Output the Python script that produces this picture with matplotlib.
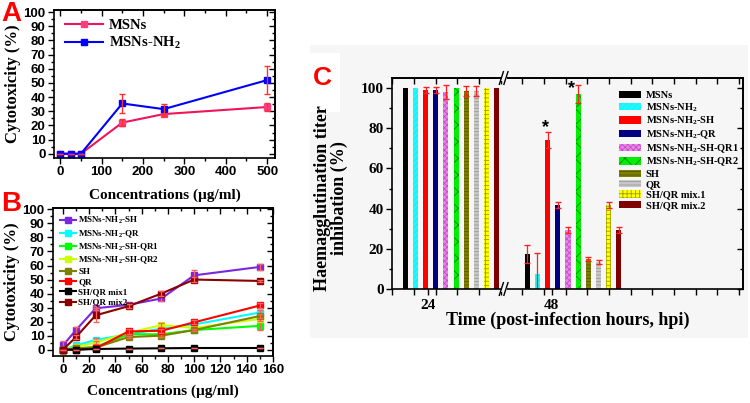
import numpy as np
import matplotlib
matplotlib.use("Agg")
import matplotlib.pyplot as plt
from matplotlib.patches import Rectangle

plt.rcParams['mathtext.fontset'] = 'custom'
plt.rcParams['mathtext.rm'] = 'Liberation Serif:bold'
plt.rcParams['mathtext.default'] = 'rm'
plt.rcParams['hatch.linewidth'] = 0.6

SERIF = 'Liberation Serif'
SANS = 'Liberation Sans'

# ---------------- data ----------------
# panel A
conc_a = [0, 25, 50, 150, 250, 500]
msn = [0, 0, 0, 22, 28, 33]
msn_err = [0, 0, 0, 2.5, 1.5, 2.5]
msn_nh2 = [0, 0, 0, 35.5, 31.5, 52]
msn_nh2_err = [0, 0, 0, 6.5, 3.5, 10]

# panel B
conc_b = [0, 10, 25, 50, 75, 100, 150]
b_names = ['MSNs-NH$_2$-SH', 'MSNs-NH$_2$-QR', 'MSNs-NH$_2$-SH-QR1', 'MSNs-NH$_2$-SH-QR2',
           'SH', 'QR', 'SH/QR mix1', 'SH/QR mix2']
b_vals = [
    [3, 14, 29.5, 32, 36.5, 53, 59],
    [0, 3, 7, 11, 15, 18, 26.5],
    [0, 1, 2, 11, 11, 14, 17],
    [0, 2, 5, 12, 17.5, 15.5, 22],
    [0, 1, 1.5, 9, 10, 14, 24],
    [0, 0, 1, 13, 13.5, 19.5, 31.5],
    [0, 0, 0.5, 0.8, 1, 1.2, 1.2],
    [0, 9, 24.5, 31, 40, 50, 49],
]
b_errs = [
    [3, 2.5, 1.5, 1.5, 2, 4, 2],
    [0, 1, 1, 1, 1, 1, 1.5],
    [0, 1, 1, 1, 1, 1, 3],
    [0, 1, 1, 1, 1.5, 1, 1.5],
    [0, 1, 1, 1, 1, 1, 1.5],
    [0, 0, 0.5, 1.5, 1.5, 1.5, 1.5],
    [0, 0, 0, 0, 0, 0, 0],
    [0, 1.5, 5, 1.5, 2, 1.5, 1],
]

# panel C
c_names = ['MSNs', 'MSNs-NH$_2$', 'MSNs-NH$_2$-SH', 'MSNs-NH$_2$-QR', 'MSNs-NH$_2$-SH-QR1',
           'MSNs-NH$_2$-SH-QR2', 'SH', 'QR', 'SH/QR mix.1', 'SH/QR mix.2']
c_24 = [100, 100, 99, 99, 98, 100, 98.5, 98.5, 100, 100]
c_24_err = [0, 0, 1.5, 1.5, 3.5, 0, 2.5, 2.5, 0, 0]
c_48 = [17.5, 7.5, 74, 42, 29.5, 97, 15, 13.5, 42, 29.5]
c_48_err = [4.5, 10.5, 4, 1.5, 1.5, 4.5, 1, 1, 1.5, 1.5]
time_labels = ['24', '48']
signif_48 = [2, 5]


def mirror_ticks(ax, xmaj, xmin, ymaj, ymin):
    sx = ax.secondary_xaxis('top')
    sx.set_xticks(xmaj)
    sx.set_xticks(xmin, minor=True)
    sx.tick_params(which='both', direction='in', labeltop=False, width=1)
    sx.tick_params(which='major', length=4)
    sx.tick_params(which='minor', length=2)
    sy = ax.secondary_yaxis('right')
    sy.set_yticks(ymaj)
    sy.set_yticks(ymin, minor=True)
    sy.tick_params(which='both', direction='in', labelright=False, width=1)
    sy.tick_params(which='major', length=4)
    sy.tick_params(which='minor', length=2)
    for s in list(sx.spines.values()) + list(sy.spines.values()):
        s.set_linewidth(1.2)


fig = plt.figure(figsize=(7.5, 4.03), dpi=100)
W, H = 750, 403


def px_axes(l, t, r, b):
    return fig.add_axes([l / W, 1 - b / H, (r - l) / W, (b - t) / H])


def style_ticks(ax, family, size):
    ax.tick_params(which='both', direction='out', width=1, labelsize=size)
    ax.tick_params(which='minor', length=2)
    ax.tick_params(which='major', length=4, pad=2)
    for lab in ax.get_xticklabels() + ax.get_yticklabels():
        lab.set_fontfamily(family)
        lab.set_fontweight('bold')
    for s in ax.spines.values():
        s.set_linewidth(1.2)


# ---------------- panel A ----------------
axA = px_axes(54, 10, 275, 158)
for vals, errs, col, mcol, lab in [(msn, msn_err, '#f0145a', '#ff3c82', 'MSNs'),
                                   (msn_nh2, msn_nh2_err, '#0000ff', '#0000ff', 'MSNs-NH$_2$')]:
    axA.plot(conc_a, vals, color=col, lw=1.5, marker='s', ms=4.5, mfc=mcol, mec=mcol, label=lab)
    axA.errorbar(conc_a, vals, yerr=errs, fmt='none', ecolor='#ff3030', elinewidth=1, capsize=2.5)
axA.set_xlim(-15, 519)
axA.set_ylim(-3, 101.5)
xa_maj = np.arange(0, 501, 100)
xa_min = np.arange(50, 520, 100)
ya_maj = np.arange(0, 101, 10)
ya_min = np.arange(5, 100, 10)
axA.set_xticks(xa_maj)
axA.set_xticks(xa_min, minor=True)
axA.set_yticks(ya_maj)
axA.set_yticks(ya_min, minor=True)
style_ticks(axA, SANS, 9.5)
mirror_ticks(axA, xa_maj, xa_min, ya_maj, ya_min)
axA.set_ylabel('Cytotoxicity (%)', family=SERIF, weight='bold', fontsize=12, labelpad=2)
axA.set_xlabel('Concentrations (µg/ml)', family=SERIF, weight='bold', fontsize=11, labelpad=7)
axA.legend(loc='upper left', bbox_to_anchor=(-0.01, 1.03), frameon=False, handlelength=2.6,
           handletextpad=0.4, labelspacing=0.2,
           prop={'family': SERIF, 'weight': 'bold', 'size': 10.5})

# ---------------- panel B ----------------
axB = px_axes(53, 208, 273, 356)
b_colors = ['#7b26e0', '#00ffff', '#00ff00', '#ccff00', '#808000', '#ff0000', '#000000', '#8b0000']
for name, vals, errs, col in zip(b_names, b_vals, b_errs, b_colors):
    axB.plot(conc_b, vals, color=col, lw=1.5, marker='s', ms=4.5, label=name)
    axB.errorbar(conc_b, vals, yerr=errs, fmt='none', ecolor='#ff6060', elinewidth=0.9, capsize=2)
axB.set_xlim(-7.5, 160)
axB.set_ylim(-4.5, 101)
xb_maj = np.arange(0, 161, 20)
xb_min = np.arange(10, 160, 20)
axB.set_xticks(xb_maj)
axB.set_xticks(xb_min, minor=True)
axB.set_yticks(ya_maj)
axB.set_yticks(ya_min, minor=True)
style_ticks(axB, SANS, 9.5)
mirror_ticks(axB, xb_maj, xb_min, ya_maj, ya_min)
axB.set_ylabel('Cytotoxicity (%)', family=SERIF, weight='bold', fontsize=12, labelpad=2)
axB.set_xlabel('Concentrations (µg/ml)', family=SERIF, weight='bold', fontsize=11, labelpad=6)
axB.legend(loc='upper left', bbox_to_anchor=(0.0, 1.0), frameon=False, handlelength=1.7,
           handletextpad=0.3, labelspacing=0.2, borderpad=0.3,
           prop={'family': SERIF, 'weight': 'bold', 'size': 6.5})

# ---------------- panel C ----------------
fig.patches.append(Rectangle((310 / W, 1 - 338 / H), 438 / W, 293 / H, transform=fig.transFigure,
                             facecolor='#f6f6f6', edgecolor='none', zorder=-5))
fig.patches.append(Rectangle((310 / W, 1 - 112 / H), 30 / W, 59 / H, transform=fig.transFigure,
                             facecolor='white', edgecolor='none', zorder=-4))

axC = px_axes(392, 78, 743, 289)
axC.set_facecolor('none')
c_colors = ['#000000', '#00ffff', '#ff0000', '#000080', '#ee82ee', '#00ee00',
            '#808000', '#c8c8c8', '#ffff00', '#800000']
c_hatch = [None, '//////', None, None, 'xxxxxx', 'xx', '-----', '-----', '++++', None]
c_hcol = ['#000000', '#70e0f0', '#ff0000', '#000080', '#c050c0', '#008800',
          '#555500', '#9a9a9a', '#a0a000', '#800000']
pos24 = np.arange(10)
pos48 = np.arange(10) + 12
for i in range(10):
    for pos, vals, errs, lab in [(pos24, c_24, c_24_err, c_names[i]), (pos48, c_48, c_48_err, None)]:
        axC.bar(pos[i], vals[i], width=0.5, color=c_colors[i], hatch=c_hatch[i],
                edgecolor=c_hcol[i], linewidth=0, label=lab)
        if errs[i] > 0:
            axC.errorbar(pos[i], vals[i], yerr=errs[i], fmt='none', ecolor='#ff2020',
                         elinewidth=0.9, capsize=2.5)
star_dx = [-0.25, -0.65]
star_y = [80.5, 99.5]
for k, dx, sy in zip(signif_48, star_dx, star_y):
    axC.text(pos48[k] + dx, sy, '*', ha='center', va='center', fontsize=13, weight='bold',
             family=SANS)
axC.set_xlim(-1.3, 33.2)
axC.set_ylim(0, 105)
axC.set_yticks(np.arange(0, 101, 20))
axC.set_yticks(np.arange(10, 105, 20), minor=True)
x_minor = -1.28 + 2.13 * np.arange(0, 17)
axC.set_xticks([2.25, 14.4])
axC.set_xticklabels(time_labels)
axC.set_xticks(x_minor, minor=True)
style_ticks(axC, SERIF, 11)
axC.tick_params(axis='x', which='both', length=4, pad=3)
mirror_ticks(axC, x_minor, [], np.arange(0, 101, 20), np.arange(10, 105, 20))
# axis break marks
for yy in (0, 1):
    axC.add_patch(Rectangle((9.45, yy - 0.012), 0.55, 0.024, transform=axC.get_xaxis_transform(),
                            facecolor='#f6f6f6', edgecolor='none', clip_on=False, zorder=5))
    for xb in (9.45, 9.9):
        axC.plot([xb - 0.2, xb + 0.2], [yy - 0.03, yy + 0.03], color='black', lw=1,
                 transform=axC.get_xaxis_transform(), clip_on=False, zorder=6)
axC.set_xlabel('Time (post-infection hours, hpi)', family=SERIF, weight='bold', fontsize=13,
               labelpad=0)
axC.set_ylabel('Haemagglutination titer\ninhibation (%)', family=SERIF, weight='bold',
               fontsize=13, linespacing=1.0)
axC.yaxis.set_label_coords(-0.125, 0.43)
axC.legend(loc='upper left', bbox_to_anchor=(0.625, 0.975), frameon=False, handlelength=2.1,
           handleheight=0.7, handletextpad=0.5, labelspacing=0.11, borderpad=0.2,
           prop={'family': SERIF, 'weight': 'bold', 'size': 7.5})

# ---------------- panel letters ----------------
fig.text(1 / W, 1 - 1 / H, 'A', color='#ff0000', fontsize=20, weight='bold', family=SANS,
         va='top')
fig.text(1 / W, 1 - 191 / H, 'B', color='#ff0000', fontsize=20, weight='bold', family=SANS,
         va='top')
fig.text(313 / W, 1 - 66 / H, 'C', color='#ff0000', fontsize=19, weight='bold', family=SANS,
         va='top')

fig.savefig('out.png', dpi=100)
